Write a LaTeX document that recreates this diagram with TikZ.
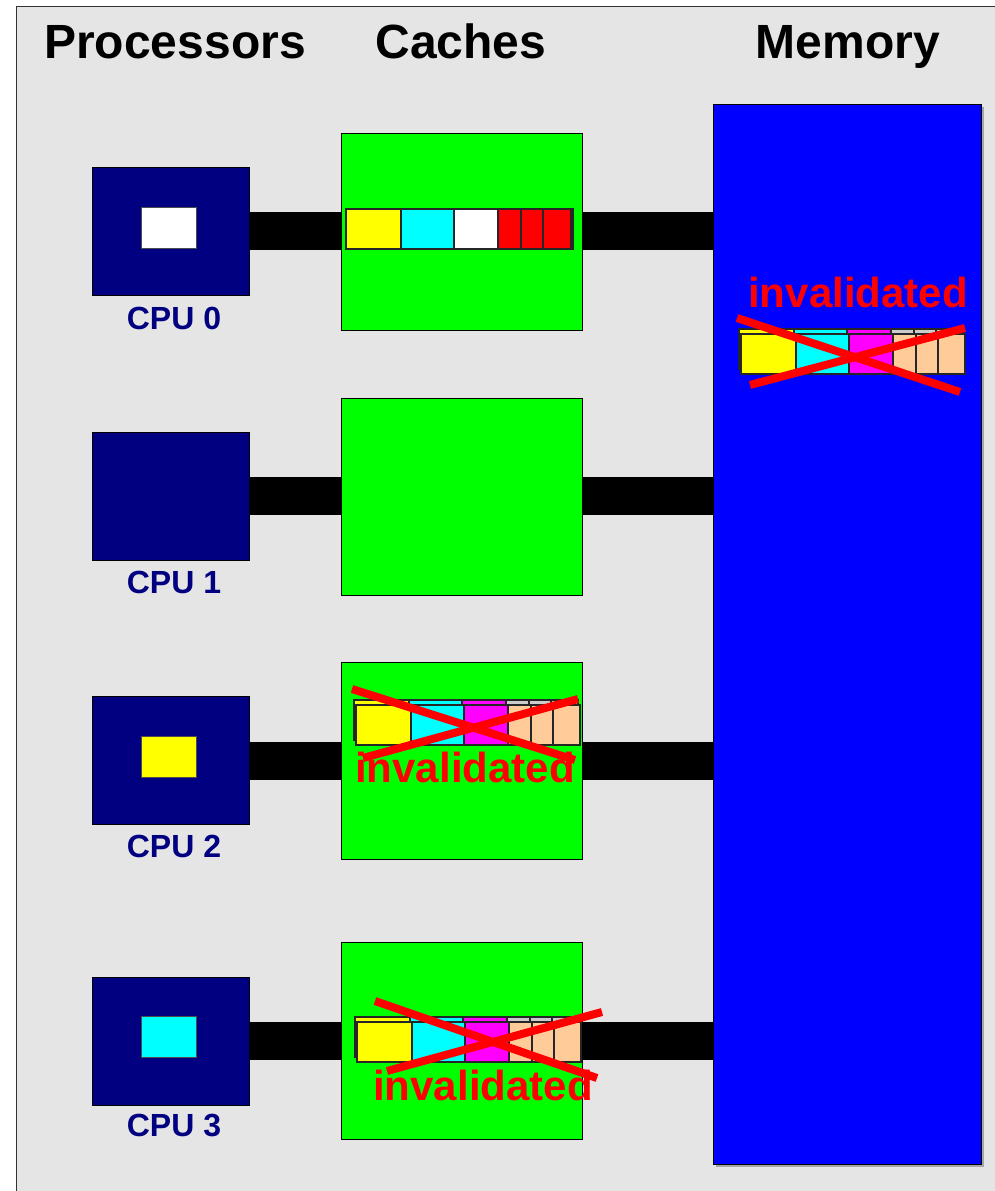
\documentclass[tikz,border=0pt]{standalone}
\usepackage{fontspec}
\setmainfont{Liberation Sans}

\definecolor{panelgray}{RGB}{229,229,229}
\definecolor{cpunavy}{RGB}{0,0,128}
\definecolor{cachegreen}{RGB}{0,255,0}
\definecolor{memblue}{RGB}{0,0,255}
\definecolor{peach}{RGB}{255,204,153}
\definecolor{cellyellow}{RGB}{255,255,0}
\definecolor{cellcyan}{RGB}{0,255,255}
\definecolor{cellmagenta}{RGB}{255,0,255}
\definecolor{cellred}{RGB}{255,0,0}
\definecolor{backgray}{RGB}{204,204,204}

\tikzset{
  cpu/.style={draw=black,fill=cpunavy,minimum width=157pt,minimum height=128pt,inner sep=0pt},
  cache/.style={draw=black,fill=cachegreen,minimum width=241pt,minimum height=197pt,inner sep=0pt},
  reg/.style={draw=black!70,minimum width=55pt,minimum height=41pt,inner sep=0pt},
  bus/.style={line width=38pt,black},
  cell/.style={draw=black!85,line width=1.4pt},
  cross/.style={cellred,line width=8pt},
  title/.style={font=\bfseries\fontsize{48}{48}\selectfont,anchor=base},
  cpulabel/.style={font=\bfseries\fontsize{32}{32}\selectfont,text=cpunavy,inner sep=0pt},
  stale/.style={font=\bfseries\fontsize{42}{42}\selectfont,text=cellred,inner sep=0pt,anchor=base},
}

% a copied line: faint back copy, then the cells; #1,#2 = top left corner
\newcommand{\copyline}[2]{%
  \foreach \dx/\w/\bk in {0/55/cellyellow,55/53/cellcyan,108/44/cellmagenta,152/23/backgray,175/22/backgray,197/27/backgray}
    \filldraw[cell,fill=\bk] ({#1+\dx-2},{#2-5}) rectangle ++(\w,40);
  \foreach \dx/\w/\fr in {0/55/cellyellow,55/53/cellcyan,108/44/cellmagenta,152/23/peach,175/22/peach,197/27/peach}
    \filldraw[cell,fill=\fr] ({#1+\dx},{#2}) rectangle ++(\w,40);
}

\begin{document}
\begin{tikzpicture}[x=1pt,y=-1pt]
  \useasboundingbox (0,0) rectangle (995,1191);
  \clip (0,0) rectangle (995,1191);
  \filldraw[fill=panelgray,draw=gray!40!black,line width=1pt] (16,6) rectangle (1010,1210);

  % column headings
  \node[title] at (175,58) {Processors};
  \node[title] at (461,58) {Caches};
  \node[title] at (848,58) {Memory};

  % memory with its shadow
  \fill[gray!70] (716,107) rectangle (984,1167);
  \node[draw=black,fill=memblue,minimum width=268pt,minimum height=1060pt,inner sep=0pt] (mem) at (847,634) {};

  % processors and their caches
  \node[cpu] (cpu0) at (170.5,231) {};
  \node[cpu] (cpu1) at (170.5,496) {};
  \node[cpu] (cpu2) at (170.5,760.5) {};
  \node[cpu] (cpu3) at (170.5,1041) {};
  \node[cache] (cache0) at (461.5,231.5) {};
  \node[cache] (cache1) at (461.5,496.5) {};
  \node[cache] (cache2) at (461.5,760.5) {};
  \node[cache] (cache3) at (461.5,1040.5) {};

  \node[cpulabel] at (174,318) {CPU 0};
  \node[cpulabel] at (174,582) {CPU 1};
  \node[cpulabel] at (174,846) {CPU 2};
  \node[cpulabel] at (174,1125) {CPU 3};

  % buses
  \foreach \i in {0,...,3}{
    \draw[bus] (cpu\i.east) -- (cpu\i.east -| cache\i.west);
    \draw[bus] (cpu\i.east -| cache\i.east) -- (cpu\i.east -| mem.west);
  }

  % registers
  \node[reg,fill=white] (reg0) at (168.5,227.5) {};
  \node[reg,fill=cellyellow] (reg2) at (168.5,756.5) {};
  \node[reg,fill=cellcyan] (reg3) at (168.5,1036.5) {};

  % the written line in cache 0
  \foreach \dx/\w/\fr in {0/55/cellyellow,55/53/cellcyan,108/44/white,152/23/cellred,175/22/cellred,197/28/cellred,225/2/backgray}
    \filldraw[cell,fill=\fr] ({346+\dx},209) rectangle ++(\w,40);

  % stale copies
  \copyline{741}{334}
  \copyline{356}{705}
  \copyline{357}{1022}

  \node[stale] at (858,307) {invalidated};
  \node[stale] at (465,782) {invalidated};
  \node[stale] at (483,1100) {invalidated};

  \draw[cross] (737,318) -- (960,392);
  \draw[cross] (750,385) -- (965,328);
  \draw[cross] (352,689) -- (575,760);
  \draw[cross] (363,758) -- (578,699);
  \draw[cross] (375,1001) -- (597,1078);
  \draw[cross] (387,1071) -- (602,1012);
\end{tikzpicture}
\end{document}
